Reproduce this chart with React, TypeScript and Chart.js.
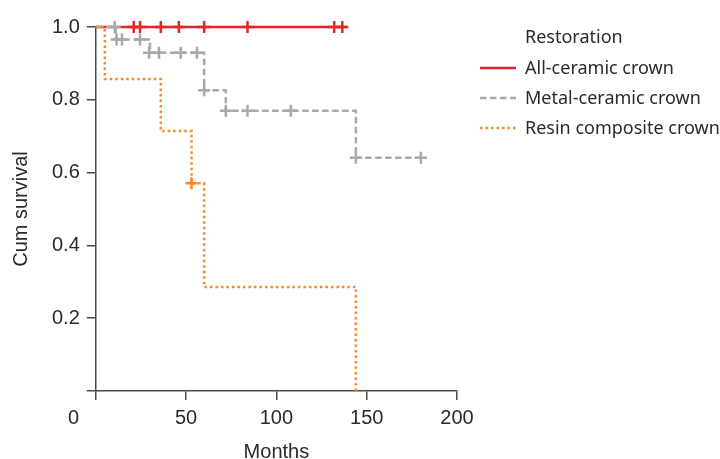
import { useEffect, useRef } from 'react';
import { Chart, registerables } from 'chart.js';

Chart.register(...registerables);

// ---------- data ----------
const groupNames = ['All-ceramic crown', 'Metal-ceramic crown', 'Resin composite crown'];
const legendTitle = 'Restoration';
const xAxisTitle = 'Months';
const yAxisTitle = 'Cum survival';
const xTicks = [0, 50, 100, 150, 200];
const yTicks = [0, 0.2, 0.4, 0.6, 0.8, 1.0];

// Kaplan-Meier steps: event time (months) and survival after the step
const allCeramicTimes = [0, 139];
const allCeramicSurvival = [1, 1];
const allCeramicCensorTimes = [21, 24.5, 36, 46, 60, 84, 132, 136.5];
const allCeramicCensorSurvival = [1, 1, 1, 1, 1, 1, 1, 1];

const metalCeramicTimes = [0, 11, 30, 60, 72, 144, 180];
const metalCeramicSurvival = [1, 0.966, 0.929, 0.826, 0.77, 0.641, 0.641];
const metalCeramicCensorTimes = [10.5, 11.5, 14.5, 24.5, 29.5, 35, 47, 56, 60, 72, 84, 108, 144, 180];
const metalCeramicCensorSurvival = [1, 0.966, 0.966, 0.966, 0.929, 0.929, 0.929, 0.929, 0.826, 0.77, 0.77, 0.77, 0.641, 0.641];

const resinTimes = [0, 5, 36, 53, 60, 144];
const resinSurvival = [1, 0.857, 0.714, 0.571, 0.286, 0];
const resinCensorTimes = [53];
const resinCensorSurvival = [0.571];

// ---------- styles ----------
const lineColors = ['#e8232b', '#a8a9ab', '#f68a2a'];
const lineDashes = [[], [6.5, 3.5], [2.5, 3]];
const axisFont = '"Liberation Sans", Arial, sans-serif';
const legendFont = '"Noto Sans", sans-serif';
const textColor = '#2a2a2a';
const axisColor = '#4a4a4a';

const zip = (xs: number[], ys: number[]) => xs.map((x, i) => ({ x, y: ys[i] }));

const legendPlugin = {
  id: 'kmLegend',
  afterDraw(chart: any) {
    const { ctx, chartArea } = chart;
    const lineStart = chartArea.right + 23;
    const lineLen = 36;
    const textX = chartArea.right + 68;
    const titleY = chartArea.top + 11;
    const firstRow = chartArea.top + 41;
    const rowStep = 30;
    ctx.save();
    ctx.font = `18px ${legendFont}`;
    ctx.fillStyle = textColor;
    ctx.textBaseline = 'middle';
    ctx.textAlign = 'left';
    ctx.fillText(legendTitle, textX, titleY);
    const items = chart.data.datasets.filter((d: any) => d.isLegendLine);
    items.forEach((d: any, i: number) => {
      const y = firstRow + i * rowStep;
      ctx.beginPath();
      ctx.setLineDash(d.borderDash || []);
      ctx.lineWidth = d.borderWidth;
      ctx.strokeStyle = d.borderColor;
      ctx.lineCap = 'butt';
      ctx.moveTo(lineStart, y);
      ctx.lineTo(lineStart + lineLen, y);
      ctx.stroke();
      ctx.setLineDash([]);
      ctx.fillStyle = textColor;
      ctx.fillText(d.label, textX, y + 1);
    });
    ctx.restore();
  },
};

export default function App() {
  const ref = useRef<HTMLCanvasElement | null>(null);

  useEffect(() => {
    if (!ref.current) return;
    const groups = [
      { t: allCeramicTimes, s: allCeramicSurvival, ct: allCeramicCensorTimes, cs: allCeramicCensorSurvival },
      { t: metalCeramicTimes, s: metalCeramicSurvival, ct: metalCeramicCensorTimes, cs: metalCeramicCensorSurvival },
      { t: resinTimes, s: resinSurvival, ct: resinCensorTimes, cs: resinCensorSurvival },
    ];
    const datasets: any[] = [];
    groups.forEach((g, i) => {
      datasets.push({
        type: 'line',
        label: groupNames[i],
        isLegendLine: true,
        data: zip(g.t, g.s),
        stepped: 'before',
        borderColor: lineColors[i],
        backgroundColor: lineColors[i],
        borderWidth: 2.5,
        borderDash: lineDashes[i],
        pointRadius: 0,
        fill: false,
        clip: false,
        order: 6 - i * 2,
      });
      datasets.push({
        type: 'scatter',
        label: groupNames[i] + ' censored',
        data: zip(g.ct, g.cs),
        pointStyle: 'cross',
        pointRadius: 6,
        pointBorderWidth: 2.5,
        borderWidth: 2.5,
        borderColor: lineColors[i],
        backgroundColor: lineColors[i],
        showLine: false,
        clip: false,
        order: 5 - i * 2,
      });
    });

    const chart = new Chart(ref.current, {
      type: 'line',
      data: { datasets },
      plugins: [legendPlugin],
      options: {
        animation: false,
        responsive: false,
        devicePixelRatio: 1,
        layout: { padding: { left: 0, right: 263, top: 27, bottom: 0 } },
        plugins: { legend: { display: false }, tooltip: { enabled: false } },
        scales: {
          x: {
            type: 'linear',
            min: 0,
            max: 200,
            afterBuildTicks: (s: any) => {
              s.ticks = xTicks.map((v) => ({ value: v }));
            },
            ticks: {
              color: textColor,
              font: { family: axisFont, size: 20 },
              padding: 6,
              maxRotation: 0,
              autoSkip: false,
              // the "0" label sits left of the origin, clear of the y axis
              callback: (v: any) => (Number(v) === 0 ? '0' + ' '.repeat(8) : String(v)),
            },
            grid: {
              display: true,
              drawOnChartArea: false,
              drawTicks: true,
              tickLength: 9,
              color: axisColor,
              lineWidth: 1.5,
            },
            border: { display: true, color: axisColor, width: 1.5 },
            title: {
              display: true,
              text: xAxisTitle,
              color: textColor,
              font: { family: axisFont, size: 20 },
              padding: { top: 4, bottom: -5 },
            },
          },
          y: {
            type: 'linear',
            min: 0,
            max: 1,
            afterBuildTicks: (s: any) => {
              s.ticks = yTicks.map((v) => ({ value: v }));
            },
            ticks: {
              color: textColor,
              font: { family: axisFont, size: 20 },
              padding: 7,
              autoSkip: false,
              callback: (v: any) => (Number(v) === 0 ? '' : Number(v).toFixed(1)),
            },
            grid: {
              display: true,
              drawOnChartArea: false,
              drawTicks: true,
              tickLength: 9,
              color: axisColor,
              lineWidth: 1.5,
            },
            border: { display: true, color: axisColor, width: 1.5 },
            title: {
              display: true,
              text: yAxisTitle,
              color: textColor,
              font: { family: axisFont, size: 20 },
              padding: { top: 9, bottom: 12 },
            },
          },
        },
      } as any,
    });
    return () => chart.destroy();
  }, []);

  return (
    <div style={{ position: 'absolute', left: 0, top: 0, width: 720, height: 459, background: '#fff' }}>
      <canvas ref={ref} width={720} height={459} style={{ display: 'block', width: 720, height: 459 }} />
    </div>
  );
}
